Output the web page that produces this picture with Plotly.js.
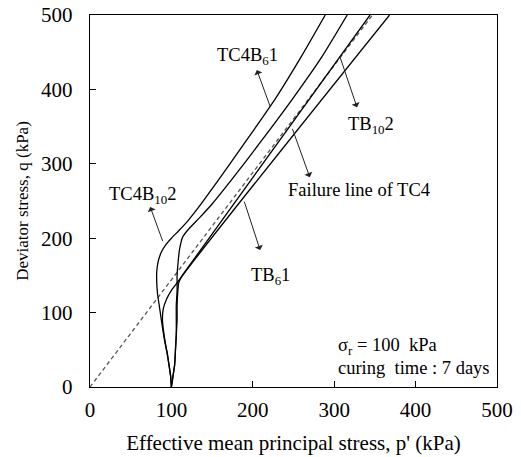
<!DOCTYPE html>
<html>
<head>
<meta charset="utf-8">
<script src="https://cdn.plot.ly/plotly-3.0.1.min.js"></script>
<style>
html,body{margin:0;padding:0;background:#fff;}
#chart{width:521px;height:457px;}
#chart svg text{font-family:"Liberation Serif","Times New Roman",serif !important;}
</style>
</head>
<body>
<div id="chart"></div>
<script>
// Failure line of TC4
var failP = [0, 347];
var failQ = [0, 500];
// TC4B10 2
var tc4b102P = [100, 99, 97, 95, 92, 89, 87, 85, 83, 82, 82, 84, 88, 93, 100, 109, 120, 133, 157, 190, 228, 259, 289];
var tc4b102Q = [0, 15, 30, 45, 60, 80, 95, 110, 125, 140, 155, 170, 182, 191, 200, 210, 223, 241, 277, 328, 388, 443, 500];
// TC4B6 1
var tc4b61P = [100, 102, 104, 105, 106, 106, 106, 107, 107, 108, 110, 114, 121, 135, 150, 175, 210, 250, 285, 316];
var tc4b61Q = [0, 15, 30, 50, 70, 90, 110, 130, 150, 165, 185, 202, 212, 228, 246, 280, 330, 389, 444, 500];
// TB10 2
var tb102P = [100, 99, 97, 94, 91, 89, 90, 94, 100, 107, 114, 344];
var tb102Q = [0, 15, 30, 50, 70, 90, 105, 118, 130, 140, 151, 500];
// TB6 1
var tb61P = [100, 102, 104, 105, 106, 107, 107, 108, 109, 112, 368];
var tb61Q = [0, 15, 30, 50, 70, 90, 110, 130, 140, 147, 500];

var tickVals = [0, 100, 200, 300, 400, 500];

var font = 'Liberation Serif';
function line(p, q) {
  return {x: p, y: q, mode: 'lines', line: {color: '#000', width: 1.3, shape: 'spline', smoothing: 0.6}, showlegend: false, hoverinfo: 'skip'};
}
var traces = [
  {x: failP, y: failQ, mode: 'lines', line: {color: '#555', width: 1.3, dash: '4px,3px'}, showlegend: false},
  line(tc4b102P, tc4b102Q),
  line(tc4b61P, tc4b61Q),
  line(tb102P, tb102Q),
  line(tb61P, tb61Q)
];

function label(txt, p, q, anchor) {
  return {x: p, y: q, xref: 'x', yref: 'y', text: txt, showarrow: false,
    xanchor: anchor || 'center', yanchor: 'middle', font: {family: font, size: 18.5, color: '#000'}};
}
function arrow(p0, q0, p1, q1) {
  return {x: p1, y: q1, ax: p0, ay: q0, xref: 'x', yref: 'y', axref: 'x', ayref: 'y',
    text: '', showarrow: true, arrowhead: 1, arrowsize: 1.4, arrowwidth: 1, arrowcolor: '#222'};
}

var annotations = [
  label('TC4B<sub>6</sub>1', 193, 444),
  arrow(222, 375, 205, 426),
  label('TC4B<sub>10</sub>2', 65, 258),
  arrow(90, 194, 74, 242),
  label('TB<sub>10</sub>2', 345, 351),
  arrow(307, 444, 328, 376),
  label('Failure line of TC4', 330, 265),
  arrow(248, 349, 270, 282),
  label('TB<sub>6</sub>1', 222, 149),
  arrow(189, 251, 209, 184),
  label('σ<sub>r</sub> = 100  kPa', 302, 54, 'left'),
  label('curing  time : 7 days', 302, 25, 'left')
];

var layout = {
  width: 521, height: 457,
  margin: {l: 90, r: 24, t: 15, b: 70},
  paper_bgcolor: '#fff', plot_bgcolor: '#fff',
  font: {family: font, size: 18, color: '#000'},
  showlegend: false,
  xaxis: {
    range: [0, 500], tickvals: tickVals, ticks: 'inside', ticklen: 6, tickcolor: '#000',
    showgrid: false, zeroline: false, showline: true, linecolor: '#000', linewidth: 1.2, mirror: true,
    tickfont: {family: font, size: 21}, ticklabelstandoff: 4,
    title: {text: "Effective mean principal stress, p' (kPa)", font: {family: font, size: 21}, standoff: 13}
  },
  yaxis: {
    range: [0, 500], tickvals: tickVals, ticks: 'inside', ticklen: 6, tickcolor: '#000',
    showgrid: false, zeroline: false, showline: true, linecolor: '#000', linewidth: 1.2, mirror: true,
    tickfont: {family: font, size: 21}, ticklabelstandoff: 12,
    title: {text: 'Deviator stress, q (kPa)', font: {family: font, size: 17}, standoff: 8}
  },
  annotations: annotations
};

Plotly.newPlot('chart', traces, layout, {displayModeBar: false, staticPlot: true});
</script>
</body>
</html>
